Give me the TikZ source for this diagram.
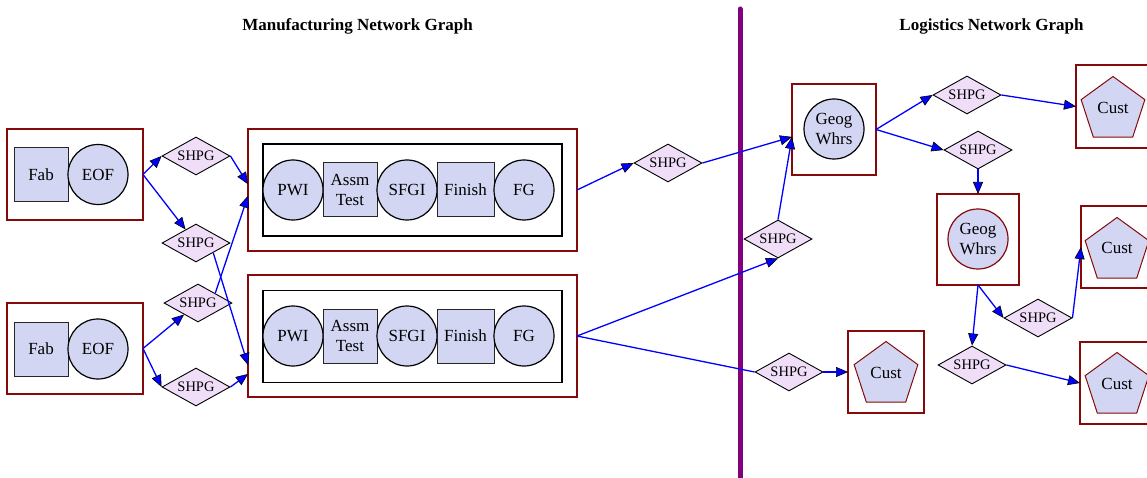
\documentclass[tikz,border=0pt]{standalone}
\usepackage{fontspec}
\setmainfont{Liberation Serif}
\usetikzlibrary{arrows.meta,positioning,shapes.geometric}
\definecolor{procfill}{RGB}{210,214,243}
\definecolor{shipfill}{RGB}{240,222,248}
\definecolor{dkred}{RGB}{135,10,10}
\definecolor{sepcol}{RGB}{128,0,128}

\begin{document}
\begin{tikzpicture}[
  x=1pt, y=-1pt, font=\fontsize{17}{19.5}\selectfont,
  grp/.style={draw=dkred, line width=1.3pt, inner sep=0pt, outer sep=0pt},
  lane/.style={draw=black, line width=1.5pt, inner sep=0pt, outer sep=0pt},
  sqr/.style={draw=black!85, fill=procfill, line width=1pt, inner sep=0pt, outer sep=0pt,
    minimum width=54pt, minimum height=54pt, align=center},
  rnd/.style={circle, draw=black, fill=procfill, line width=1.2pt, inner sep=0pt, outer sep=0pt,
    minimum size=60pt, align=center},
  shp/.style={diamond, draw=black, fill=shipfill, line width=0.9pt, inner sep=1pt, aspect=1.8,
    minimum width=68pt, minimum height=38pt, font=\fontsize{14.5}{16}\selectfont},
  cust/.style={regular polygon, regular polygon sides=5, draw=dkred, fill=procfill, line width=1pt,
    inner sep=0pt, minimum size=67pt},
  flow/.style={draw=blue, line width=1.3pt,
    -{Triangle[length=12pt, width=10pt, fill=blue, color=black, line width=0.6pt]}},
  plain/.style={draw=blue, line width=1.3pt},
  title/.style={font=\fontsize{17}{19}\selectfont\bfseries}]
\useasboundingbox (0,0) rectangle (1147,478);
\clip (0,0) rectangle (1147,478);

\node[title] (mtitle) at (357.5,26) {Manufacturing Network Graph};
\node[title] (ltitle) at (991.5,26) {Logistics Network Graph};
\coordinate (septop) at (740,9);
\coordinate (sepbot) at (740,480);
\draw[sepcol, line width=5pt, line cap=round] (septop) -- (sepbot);

% fabs
\node[grp, minimum width=136pt, minimum height=91pt] (mfg1) at (75,174.5) {};
\node[sqr] (fab1) at (41,174.5) {Fab};
\node[rnd, right=0pt of fab1] (eof1) {EOF};
\node[grp, minimum width=136pt, minimum height=91pt] (mfg2) at (75,348.5) {};
\node[sqr] (fab2) at (41,349) {Fab};
\node[rnd, right=0pt of fab2] (eof2) {EOF};

% assembly plants
\node[grp, minimum width=329pt, minimum height=122pt] (plant1) at (412.5,190) {};
\node[lane, minimum width=299pt, minimum height=92pt] (line1) at (412.5,190) {};
\node[rnd] (pwi1) at (293,190) {PWI};
\node[sqr, right=0pt of pwi1] (asm1) {Assm\\Test};
\node[rnd, right=0pt of asm1] (sfgi1) {SFGI};
\node[sqr, minimum width=57pt, right=0pt of sfgi1] (fin1) {Finish};
\node[rnd, right=0pt of fin1] (fg1) {FG};
\node[grp, minimum width=329pt, minimum height=122pt] (plant2) at (412.5,336) {};
\node[lane, minimum width=299pt, minimum height=92pt] (line2) at (412.5,336.5) {};
\node[rnd] (pwi2) at (293,336) {PWI};
\node[sqr, right=0pt of pwi2] (asm2) {Assm\\Test};
\node[rnd, right=0pt of asm2] (sfgi2) {SFGI};
\node[sqr, minimum width=57pt, right=0pt of sfgi2] (fin2) {Finish};
\node[rnd, right=0pt of fin2] (fg2) {FG};

% shipping
\node[shp] (ship1) at (196,156) {SHPG};
\node[shp] (ship2) at (196,243) {SHPG};
\node[shp] (ship3) at (198,303) {SHPG};
\node[shp] (ship4) at (196,387) {SHPG};
\node[shp] (ship5) at (668,163) {SHPG};
\node[shp] (ship6) at (778,239) {SHPG};
\node[shp] (ship7) at (789,372) {SHPG};
\node[shp] (ship8) at (967,95) {SHPG};
\node[shp] (ship9) at (978,150) {SHPG};
\node[shp] (ship10) at (1038,318) {SHPG};
\node[shp] (ship11) at (972,365) {SHPG};

% warehouses and customers
\node[grp, minimum width=84pt, minimum height=91pt] (wh1) at (834,129.5) {};
\node[rnd] (geo1) at (834,129) {Geog\\Whrs};
\node[grp, minimum width=82pt, minimum height=91pt] (wh2) at (978,239.5) {};
\node[rnd, draw=dkred] (geo2) at (978,239) {Geog\\Whrs};
\node[grp, minimum width=76pt, minimum height=83pt] (cb1) at (1114,106.5) {};
\node[cust] (cust1) at (1113,110) {};
\node (ctxt1) at (1113,108) {Cust};
\node[grp, minimum width=76pt, minimum height=82pt] (cb2) at (1119,247) {};
\node[cust] (cust2) at (1117,251) {};
\node (ctxt2) at (1117,248) {Cust};
\node[grp, minimum width=76pt, minimum height=82pt] (cb3) at (1118,383) {};
\node[cust] (cust3) at (1117,386) {};
\node (ctxt3) at (1117,384) {Cust};
\node[grp, minimum width=76pt, minimum height=82pt] (cb4) at (886,372) {};
\node[cust] (cust4) at (886,375) {};
\node (ctxt4) at (886,373) {Cust};

\draw[flow] (mfg1.east) -- (ship1.west);
\draw[flow] (mfg1.east) -- (ship2);
\draw[flow] (mfg2.east) -- (ship3);
\draw[flow] (mfg2.east) -- (ship4.west);
\draw[flow] (ship1.east) -- (plant1.178);
\draw[flow] (ship3.north east) -- (plant1.182);
\draw[flow] (ship2.south east) -- (plant2.190);
\draw[flow] (ship4.east) -- (plant2.193);
\draw[flow] (plant1.east) -- (ship5.west);
\draw[flow] (ship5.east) -- (wh1.190);
\draw[flow] (plant2.east) -- (ship6.south);
\draw[plain] (plant2.east) -- (ship7.west);
\draw[flow] (ship6.north) -- (wh1.190);
\draw[flow] (ship7.east) -- (cb4.west);
\draw[flow] (wh1.east) -- (ship8.west);
\draw[flow] (wh1.east) -- (ship9.west);
\draw[flow] (ship8.east) -- (cb1.west);
\draw[flow] (ship9.south) -- (wh2.north);
\draw[flow] (wh2.south) -- (ship10.west);
\draw[flow] (wh2.south) -- (ship11.north);
\draw[flow] (ship10.east) -- (cb2.west);
\draw[flow] (ship11.east) -- (cb3.west);
\end{tikzpicture}
\end{document}
